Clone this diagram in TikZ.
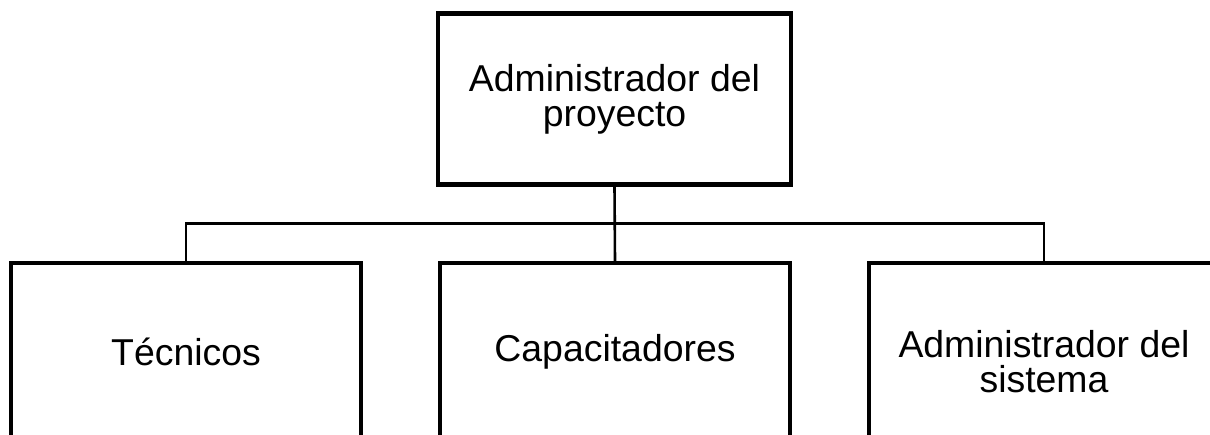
\documentclass[tikz,border=0pt]{standalone}
\usepackage{fontspec}
\setmainfont{Liberation Sans}
\usetikzlibrary{positioning,calc}

\begin{document}
\begin{tikzpicture}[x=1pt, y=1pt,
  box/.style={draw, line width=2.1pt, minimum width=175pt, align=center, inner sep=0pt,
    font=\fontsize{18.7}{17.5}\selectfont},
  link/.style={line width=1.3pt}]
  \clip (0,0) rectangle (605,-217);
  % Top: project administrator
  \node[box, minimum width=176.5pt, minimum height=85.5pt] (admproy) at (307.25,-49.5) {Administrador del\\proyecto};
  % Bottom row, cut off by the page edge
  \node[box, minimum height=88.5pt] (tecnicos) at (93,-175.75) {Técnicos};
  \node[box, minimum height=88.5pt] (capacit)  at (307.5,-175.75) {Capacitadores};
  \node[box, minimum height=99pt]   (admsist)  at (522,-181) {Administrador del\\sistema};
  % Connectors
  \coordinate (bus) at ($(admproy.south)!0.5!(capacit.north)$);
  \draw[link] (admproy.south) -- (capacit.north);
  \draw[link] (tecnicos.north) |- (bus) -| (admsist.north);
\end{tikzpicture}
\end{document}
